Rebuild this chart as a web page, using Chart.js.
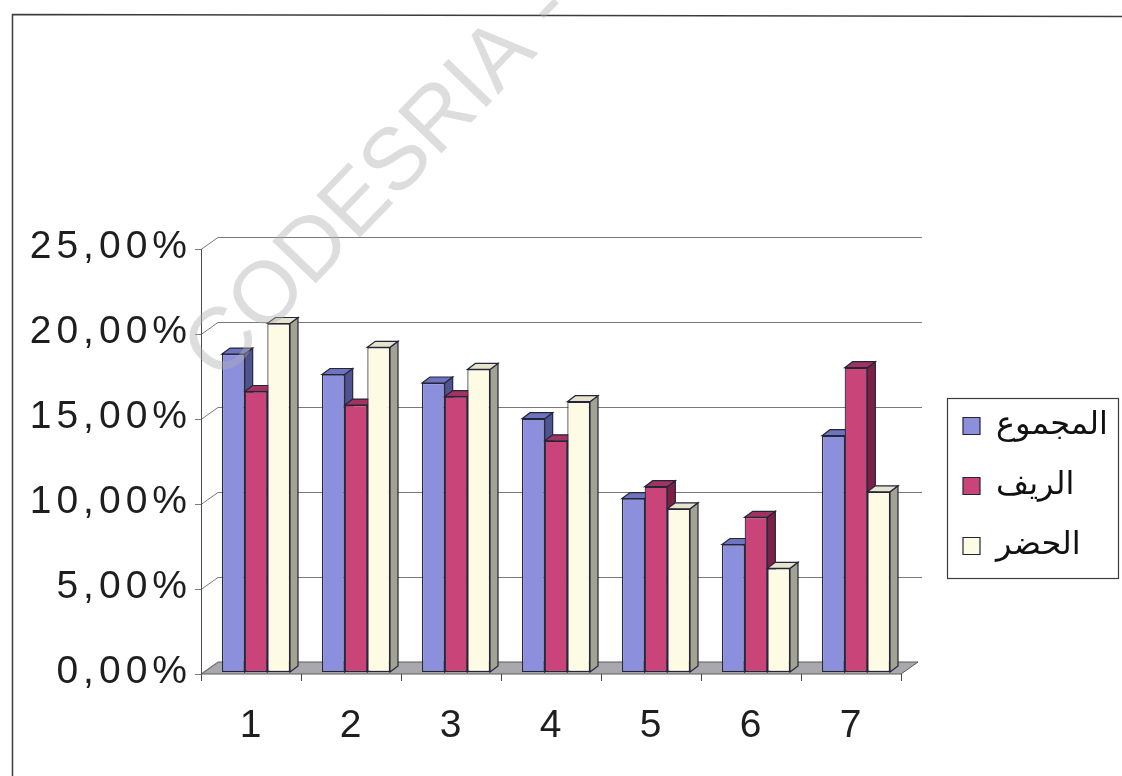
<!DOCTYPE html>
<html>
<head>
<meta charset="utf-8">
<title>المجموع / الريف / الحضر</title>
<script src="https://cdn.jsdelivr.net/npm/chart.js@4/dist/chart.umd.min.js"></script>
<style>
  html, body { margin: 0; padding: 0; background: #ffffff; overflow: hidden; }
  #wrap { position: relative; width: 1122px; height: 776px; }
  canvas { display: block; }
</style>
</head>
<body>
<div id="wrap"><canvas id="chart" width="1122" height="776"></canvas></div>
<script>
// ---- data ----
const categories = ['1', '2', '3', '4', '5', '6', '7'];
const seriesNames = ['المجموع', 'الريف', 'الحضر'];
const totalValues = [18.7, 17.5, 17.0, 14.9, 10.2, 7.5, 13.9];
const ruralValues = [16.5, 15.7, 16.2, 13.6, 10.9, 9.1, 17.9];
const urbanValues = [20.5, 19.1, 17.8, 15.9, 9.6, 6.1, 10.6];
const yTickLabels = ['0,00%', '5,00%', '10,00%', '15,00%', '20,00%', '25,00%'];

// ---- look ----
const frontColors = ['#8c90dc', '#c94479', '#fdfbe4'];
const sideColors  = ['#4f5490', '#7c2046', '#a3a394'];
const topColors   = ['#6d73bd', '#a2325f', '#e6e4cc'];
const outline = '#25253a';
const depth = { dx: 8, dy: 6 };          // bar extrusion
const frontShift = { x: -5, y: 2 };      // front edge of floor / axis
const backShift = { x: 12, y: -10 };     // back wall
const legendFrame = { left: 947, top: 398, right: 1118, bottom: 578 };
const legendPad = 28;
const legendFontSize = 32;
const legendBoxX = 963;
const legendFirstRow = 426;

// draws the back wall, floor and the extruded faces of each column
const columns3d = {
  id: 'columns3d',
  beforeDraw(chart) {
    const ctx = chart.ctx;
    ctx.save();
    ctx.strokeStyle = '#3c3c3c';
    ctx.lineWidth = 1.5;
    ctx.beginPath();
    ctx.moveTo(12.5, 776);
    ctx.lineTo(12.5, 14.5);
    ctx.lineTo(1122, 16.5);
    ctx.stroke();
    ctx.restore();
  },
  beforeDatasetsDraw(chart) {
    const { ctx, chartArea: a, scales: { x, y } } = chart;
    ctx.save();

    // floor
    const fb = a.bottom;
    ctx.fillStyle = '#a9a9ad';
    ctx.strokeStyle = '#5a5a5a';
    ctx.lineWidth = 1;
    ctx.beginPath();
    ctx.moveTo(a.left + frontShift.x, fb + frontShift.y);
    ctx.lineTo(a.right + frontShift.x, fb + frontShift.y);
    ctx.lineTo(a.right + backShift.x, fb + backShift.y);
    ctx.lineTo(a.left + backShift.x, fb + backShift.y);
    ctx.closePath();
    ctx.fill();
    ctx.stroke();

    // back wall gridlines, wall connectors and axis ticks
    ctx.strokeStyle = '#7a7a7a';
    y.ticks.forEach(t => {
      const py = y.getPixelForValue(t.value);
      ctx.beginPath();
      ctx.moveTo(a.left + frontShift.x - 6, py + frontShift.y + 0.5);
      ctx.lineTo(a.left + frontShift.x, py + frontShift.y + 0.5);
      ctx.lineTo(a.left + backShift.x, py + backShift.y + 0.5);
      if (t.value > 0) ctx.lineTo(a.right + backShift.x + 4, py + backShift.y + 0.5);
      ctx.stroke();
    });

    // front axis line
    ctx.strokeStyle = '#4a4a4a';
    ctx.beginPath();
    ctx.moveTo(a.left + frontShift.x + 0.5, y.getPixelForValue(25) + frontShift.y);
    ctx.lineTo(a.left + frontShift.x + 0.5, a.bottom + frontShift.y + 6);
    ctx.stroke();

    // category separators under the floor edge
    const step = a.width / categories.length;
    for (let k = 0; k <= categories.length; k++) {
      const px = Math.round(a.left + frontShift.x + k * step) + 0.5;
      ctx.beginPath();
      ctx.moveTo(px, a.bottom + frontShift.y);
      ctx.lineTo(px, a.bottom + frontShift.y + 7);
      ctx.stroke();
    }

    // side and top faces, left to right so neighbours overlap correctly
    ctx.lineWidth = 1.2;
    ctx.strokeStyle = outline;
    const metas = chart.data.datasets.map((d, i) => chart.getDatasetMeta(i));
    for (let i = 0; i < categories.length; i++) {
      metas.forEach((meta, d) => {
        const el = meta.data[i];
        if (!el) return;
        const p = el.getProps(['x', 'y', 'base', 'width'], true);
        const L = p.x - p.width / 2, R = p.x + p.width / 2;
        const T = p.y, B = p.base;
        // right side
        ctx.fillStyle = sideColors[d];
        ctx.beginPath();
        ctx.moveTo(R, T);
        ctx.lineTo(R + depth.dx, T - depth.dy);
        ctx.lineTo(R + depth.dx, B - depth.dy);
        ctx.lineTo(R, B);
        ctx.closePath();
        ctx.fill();
        ctx.stroke();
        // top
        ctx.fillStyle = topColors[d];
        ctx.beginPath();
        ctx.moveTo(L, T);
        ctx.lineTo(L + depth.dx, T - depth.dy);
        ctx.lineTo(R + depth.dx, T - depth.dy);
        ctx.lineTo(R, T);
        ctx.closePath();
        ctx.fill();
        ctx.stroke();
      });
    }
    ctx.restore();
  },
  afterDatasetsDraw(chart) {
    // axis labels are drawn in the next layer with wider tracking
    chart.ctx.letterSpacing = '5px';
  },
  afterLayout(chart) {
    const lg = chart.legend;
    if (!lg) return;
    lg.left = legendBoxX - legendPad;
    lg.right = legendFrame.right;
    lg.top = legendFirstRow - legendFontSize / 2 - legendPad;
    lg.bottom = 770;
    lg.width = lg.right - lg.left;
    lg.height = lg.bottom - lg.top;
  },
  afterDraw(chart) {
    const ctx = chart.ctx;
    ctx.letterSpacing = '0px';
    ctx.save();
    ctx.strokeStyle = '#3c3c3c';
    ctx.lineWidth = 1.2;
    ctx.strokeRect(legendFrame.left + 0.5, legendFrame.top + 0.5,
      legendFrame.right - legendFrame.left, legendFrame.bottom - legendFrame.top);
    // watermark
    ctx.translate(380, 182);
    ctx.rotate(-46 * Math.PI / 180);
    ctx.font = '88px "Liberation Sans", Arial, sans-serif';
    ctx.fillStyle = 'rgba(175,175,175,0.42)';
    ctx.textAlign = 'center';
    ctx.textBaseline = 'middle';
    ctx.fillText('CODESRIA -', 0, 0);
    ctx.restore();
  }
};

const tickFont = { family: '"Liberation Sans", Arial, sans-serif', size: 39 };

new Chart(document.getElementById('chart'), {
  type: 'bar',
  data: {
    labels: categories,
    datasets: [
      { label: seriesNames[0], data: totalValues },
      { label: seriesNames[1], data: ruralValues },
      { label: seriesNames[2], data: urbanValues }
    ].map((ds, i) => Object.assign(ds, {
      backgroundColor: frontColors[i],
      borderColor: outline,
      borderWidth: 1.2,
      borderSkipped: false,
      categoryPercentage: 0.68,
      barPercentage: 1.0
    }))
  },
  options: {
    responsive: false,
    animation: false,
    devicePixelRatio: 1,
    layout: { autoPadding: false, padding: { left: 0, top: 247, right: 216, bottom: 0 } },
    scales: {
      x: {
        grid: { display: false, drawTicks: false },
        border: { display: false },
        ticks: { font: tickFont, color: '#1e1e1e', padding: 31, labelOffset: -3, z: 1 },
        afterFit(s) { s.height = 104; }
      },
      y: {
        min: 0, max: 25,
        grid: { display: false, drawTicks: false },
        border: { display: false },
        ticks: {
          stepSize: 5, font: tickFont, color: '#1e1e1e', padding: 14, z: 1,
          callback: v => yTickLabels[Math.round(v / 5)]
        },
        afterFit(s) { s.width = 206; }
      }
    },
    plugins: {
      legend: {
        position: 'chartArea',
        align: 'start',
        labels: {
          boxWidth: 17, boxHeight: 17, padding: legendPad,
          color: '#111111',
          font: { family: '"DejaVu Sans", sans-serif', size: legendFontSize }
        }
      },
      tooltip: { enabled: false }
    }
  },
  plugins: [columns3d]
});
</script>
</body>
</html>
